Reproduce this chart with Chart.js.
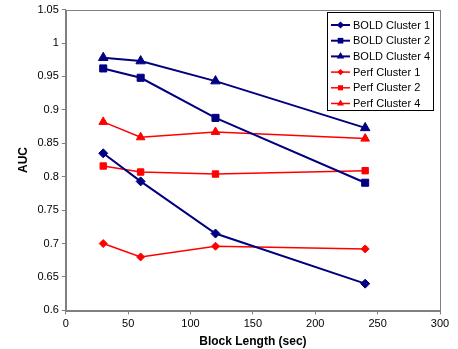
<!DOCTYPE html>
<html>
<head>
<meta charset="utf-8">
<script src="https://cdn.jsdelivr.net/npm/chart.js@4.4.0/dist/chart.umd.min.js"></script>
<style>
  html, body { margin: 0; padding: 0; background: #fff; }
  #wrap { width: 458px; height: 349px; }
</style>
</head>
<body>
<div id="wrap"><canvas id="stage" width="458" height="349"></canvas></div>
<script>
// block lengths (sec)
var blockLengths = [30, 60, 120, 240];

// AUC per series
var boldCluster1 = [0.835, 0.793, 0.715, 0.640];
var boldCluster2 = [0.962, 0.948, 0.888, 0.791];
var boldCluster4 = [0.978, 0.973, 0.943, 0.873];
var perfCluster1 = [0.700, 0.680, 0.696, 0.692];
var perfCluster2 = [0.816, 0.807, 0.804, 0.809];
var perfCluster4 = [0.882, 0.859, 0.867, 0.857];

var seriesNames = ['BOLD Cluster 1', 'BOLD Cluster 2', 'BOLD Cluster 4',
                   'Perf Cluster 1', 'Perf Cluster 2', 'Perf Cluster 4'];

var NAVY = '#000080';
var RED = '#ff0000';
var FONT = 'Liberation Sans, Arial, sans-serif';

function toPoints(vals) {
  return vals.map(function(v, i) { return {x: blockLengths[i], y: v}; });
}

function ds(name, vals, color, style, radius, width) {
  return {
    label: name,
    data: toPoints(vals),
    borderColor: color,
    backgroundColor: color,
    borderWidth: width,
    pointStyle: style,
    pointRadius: radius,
    pointHoverRadius: radius,
    pointBorderWidth: 1,
    tension: 0
  };
}

var datasets = [
  ds(seriesNames[0], boldCluster1, NAVY, 'rectRot', 4.5, 2),
  ds(seriesNames[1], boldCluster2, NAVY, 'rect', 5, 2),
  ds(seriesNames[2], boldCluster4, NAVY, 'triangle', 5.5, 2),
  ds(seriesNames[3], perfCluster1, RED, 'rectRot', 4, 1.5),
  ds(seriesNames[4], perfCluster2, RED, 'rect', 4.5, 1.5),
  ds(seriesNames[5], perfCluster4, RED, 'triangle', 5, 1.5)
];

// gray frame round the plot area
var frame = {
  id: 'frame',
  beforeDatasetsDraw: function(chart) {
    var a = chart.chartArea, ctx = chart.ctx;
    ctx.save();
    ctx.strokeStyle = '#808080';
    ctx.lineWidth = 1;
    ctx.strokeRect(Math.round(a.left) + 0.5, Math.round(a.top) + 0.5,
                   Math.round(a.right - a.left), Math.round(a.bottom - a.top));
    ctx.restore();
  }
};

// legend drawn inside the plot, top right
var boxLegend = {
  id: 'boxLegend',
  afterDraw: function(chart) {
    var ctx = chart.ctx;
    var x0 = 327, y0 = 12, w = 106, rowH = 15.7, h = 98;
    ctx.save();
    ctx.fillStyle = '#fff';
    ctx.fillRect(x0, y0, w, h);
    ctx.strokeStyle = '#000';
    ctx.lineWidth = 1;
    ctx.strokeRect(x0 + 0.5, y0 + 0.5, w, h);
    ctx.font = '11px ' + FONT;
    ctx.textBaseline = 'middle';
    chart.data.datasets.forEach(function(d, i) {
      var cy = y0 + 13 + i * rowH;
      ctx.strokeStyle = d.borderColor;
      ctx.lineWidth = d.borderWidth;
      ctx.beginPath();
      ctx.moveTo(x0 + 4, cy);
      ctx.lineTo(x0 + 23, cy);
      ctx.stroke();
      ctx.fillStyle = d.backgroundColor;
      Chart.helpers.drawPoint(ctx, {pointStyle: d.pointStyle, radius: d.pointRadius * 0.8, borderWidth: 0}, x0 + 13.5, cy);
      ctx.fillStyle = '#000';
      ctx.fillText(d.label, x0 + 26, cy + 0.5);
    });
    ctx.restore();
  }
};

var tickFont = {family: FONT, size: 11};
var titleFont = {family: FONT, size: 12, weight: 'bold'};

new Chart(document.getElementById('stage'), {
  type: 'line',
  data: {datasets: datasets},
  options: {
    responsive: false,
    animation: false,
    layout: {padding: {top: 9, right: 18, left: 16, bottom: 0}},
    plugins: {legend: {display: false}, tooltip: {enabled: false}},
    scales: {
      x: {
        type: 'linear',
        min: 0, max: 300,
        ticks: {stepSize: 50, color: '#000', font: tickFont, padding: 3, maxRotation: 0},
        grid: {drawOnChartArea: false, color: '#808080', tickLength: 4},
        border: {color: '#808080'},
        title: {display: true, text: 'Block Length (sec)', color: '#000', font: titleFont, padding: {top: 1, bottom: 0}}
      },
      y: {
        min: 0.6, max: 1.05,
        ticks: {stepSize: 0.05, color: '#000', font: tickFont, padding: 3,
                callback: function(v) { return parseFloat(v.toFixed(2)).toString(); }},
        grid: {drawOnChartArea: false, color: '#808080', tickLength: 4},
        border: {color: '#808080'},
        title: {display: true, text: 'AUC', color: '#000', font: titleFont, padding: {top: 0, bottom: 4}}
      }
    }
  },
  plugins: [frame, boxLegend]
});
</script>
</body>
</html>
